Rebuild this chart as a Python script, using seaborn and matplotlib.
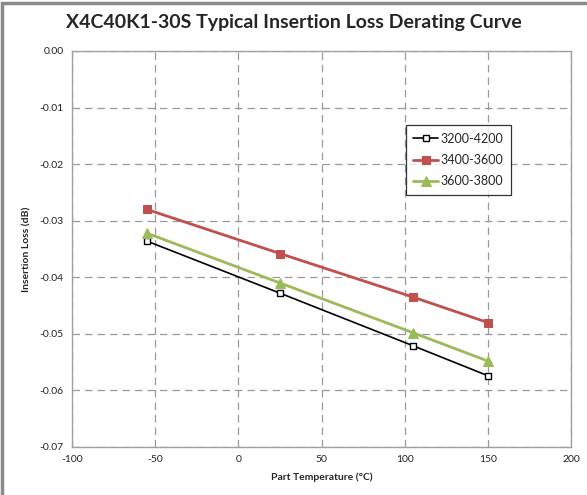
import matplotlib
matplotlib.use("Agg")
import matplotlib.pyplot as plt
import seaborn as sns
import pandas as pd
from matplotlib.patches import Rectangle

temps = [-55, 25, 105, 150]
s_3200_4200 = [-0.0336, -0.0428, -0.0521, -0.0574]
s_3400_3600 = [-0.0280, -0.0358, -0.0435, -0.0480]
s_3600_3800 = [-0.0322, -0.0410, -0.0498, -0.0548]
series_names = ["3200-4200", "3400-3600", "3600-3800"]
x_ticks = [-100, -50, 0, 50, 100, 150, 200]
y_ticks = [0.00, -0.01, -0.02, -0.03, -0.04, -0.05, -0.06, -0.07]

df = pd.DataFrame({
    "temp": temps * 3,
    "loss": s_3200_4200 + s_3400_3600 + s_3600_3800,
    "series": [series_names[0]] * 4 + [series_names[1]] * 4 + [series_names[2]] * 4,
})

sns.set_style("white")
plt.rcParams['font.family'] = ['Lato', 'DejaVu Sans']

fig = plt.figure(figsize=(5.87, 4.95), dpi=100)
ax = fig.add_axes([72/587, 1-447/495, 499/587, 396/495])

colors = {"3200-4200": "#000000", "3400-3600": "#C0504D", "3600-3800": "#9BBB59"}
styles = {
    "3200-4200": dict(marker="s", ms=5, mfc="white", mec="black", mew=1.0, lw=1.2),
    "3400-3600": dict(marker="s", ms=6, mfc="#C0504D", mec="#C0504D", lw=2.0),
    "3600-3800": dict(marker="^", ms=6.5, mfc="#9BBB59", mec="#9BBB59", lw=2.0),
}
for name in series_names:
    sub = df[df.series == name]
    sns.lineplot(data=sub, x="temp", y="loss", ax=ax, color=colors[name], label=name,
                 **styles[name])

ax.set_xlim(-100, 200)
ax.set_ylim(-0.07, 0.0)
ax.set_xticks(x_ticks)
ax.set_yticks(y_ticks)
ax.set_xticklabels([str(t) for t in x_ticks])
ax.set_yticklabels([f"{t:.2f}" for t in y_ticks])
ax.tick_params(axis="both", labelsize=7.5, colors="#222222", length=0, pad=6)
ax.grid(True, color="#9a9a9a", linestyle=(0, (6, 4)), linewidth=0.9)
for s in ax.spines.values():
    s.set_color("#a0a0a0")
    s.set_linewidth(1.0)
ax.set_xlabel("Part Temperature (\u00b0C)", fontsize=7.5, fontweight="bold", labelpad=6)
ax.set_ylabel("Insertion Loss (dB)", fontsize=7.5, fontweight="bold", labelpad=6)

fig.text(0.5, 0.955, "X4C40K1-30S Typical Insertion Loss Derating Curve",
         ha="center", va="center", fontsize=14, fontweight="bold")

leg = ax.legend(loc="upper left", bbox_to_anchor=(0.669, 0.813), fontsize=9,
                frameon=True, fancybox=False, handlelength=2.0, borderpad=0.6,
                labelspacing=0.75, handletextpad=0.2, borderaxespad=0)
leg.get_frame().set_edgecolor("black")
leg.get_frame().set_linewidth(0.9)

fig.patches.append(Rectangle((2/587, -0.01), 1.1, 1-3/495+0.01, transform=fig.transFigure,
                             fill=False, edgecolor="#8a8a8a", linewidth=2.5))

fig.savefig("out.png", dpi=100)
